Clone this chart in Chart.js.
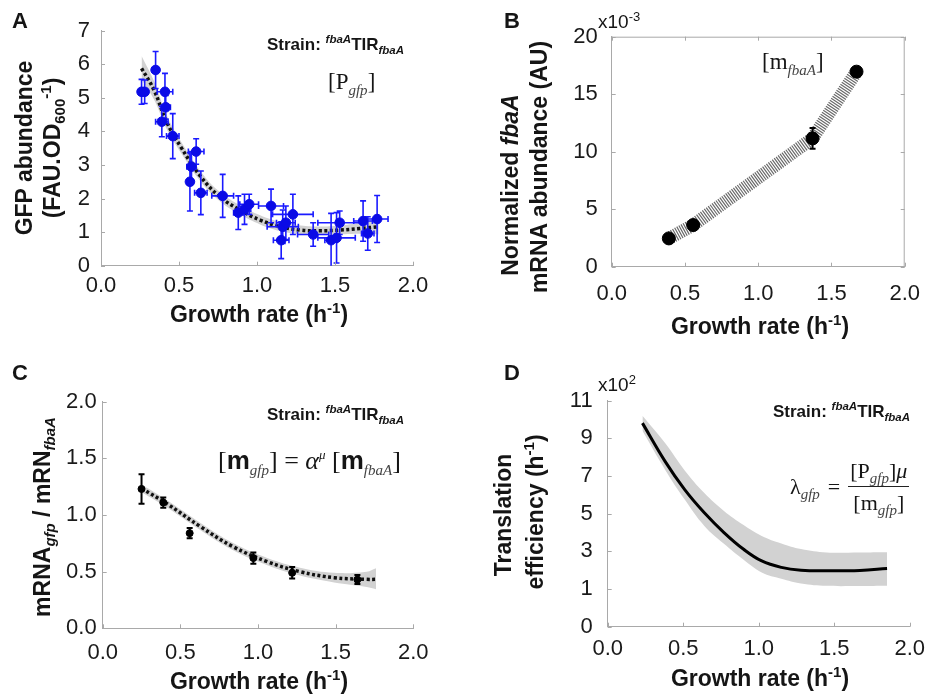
<!DOCTYPE html>
<html>
<head>
<meta charset="utf-8">
<script src="https://cdn.jsdelivr.net/npm/chart.js@4.4.1/dist/chart.umd.min.js"></script>
<style>
  body { margin: 0; background: #fff; }
  #page { position: relative; width: 934px; height: 694px; overflow: hidden; font-family: Arial, "Liberation Sans", sans-serif; color: #151515; }
  canvas { position: absolute; left: 0; top: 0; }
  .t { position: absolute; white-space: nowrap; line-height: 1; }
  .ttl { font-weight: bold; font-size: 23px; transform: translate(-50%, -50%); }
  .vt { font-weight: bold; font-size: 23px; transform: translate(-50%, -50%) rotate(-90deg); }
  .lbl { font-weight: bold; font-size: 22px; }
  .strain { font-weight: bold; font-size: 17px; transform: translateY(-50%); }
  .strain sup, .strain sub { font-size: 11.5px; font-style: italic; }
  .serif { font-family: "Times New Roman", "Liberation Serif", serif; font-size: 23px; }
  .serif sub { font-style: italic; font-size: 15px; color: #444; }
  sup, sub { line-height: 0; }
  .ttl sup, .vt sup, .vt sub { font-size: 15px; }
</style>
</head>
<body>
<div id="page">
  <canvas id="chartA" width="934" height="694"></canvas>
  <canvas id="chartB" width="934" height="694"></canvas>
  <canvas id="chartC" width="934" height="694"></canvas>
  <canvas id="chartD" width="934" height="694"></canvas>

  <!-- panel letters -->
  <div class="t lbl" style="left:12px;top:10px">A</div>
  <div class="t lbl" style="left:504px;top:10px">B</div>
  <div class="t lbl" style="left:12px;top:362px">C</div>
  <div class="t lbl" style="left:504px;top:362px">D</div>

  <!-- axis titles -->
  <div class="t ttl" style="left:259px;top:314px">Growth rate (h<sup>-1</sup>)</div>
  <div class="t ttl" style="left:760px;top:326px">Growth rate (h<sup>-1</sup>)</div>
  <div class="t ttl" style="left:259px;top:681px">Growth rate (h<sup>-1</sup>)</div>
  <div class="t ttl" style="left:760px;top:678px">Growth rate (h<sup>-1</sup>)</div>

  <div class="t vt" style="left:24px;top:148px">GFP abundance</div>
  <div class="t vt" style="left:52px;top:148px">(FAU.OD<sub>600</sub><sup>-1</sup>)</div>
  <div class="t vt" style="left:510px;top:185px">Normalized <i>fbaA</i></div>
  <div class="t vt" style="left:539px;top:167px">mRNA abundance (AU)</div>
  <div class="t vt" style="left:42px;top:517px">mRNA<sub><i>gfp</i></sub> / mRN<sub><i>fbaA</i></sub></div>
  <div class="t vt" style="left:503px;top:515px">Translation</div>
  <div class="t vt" style="left:535px;top:512px">efficiency (h<sup>-1</sup>)</div>

  <!-- multipliers -->
  <div class="t" style="left:598px;top:12px;font-size:19px">x10<sup style="font-size:13px">-3</sup></div>
  <div class="t" style="left:598px;top:375px;font-size:19px">x10<sup style="font-size:13px">2</sup></div>

  <!-- annotations -->
  <div class="t strain" style="left:267px;top:44px">Strain: <sup>fbaA</sup>TIR<sub>fbaA</sub></div>
  <div class="t strain" style="left:267px;top:414px">Strain: <sup>fbaA</sup>TIR<sub>fbaA</sub></div>
  <div class="t strain" style="left:773px;top:411px">Strain: <sup>fbaA</sup>TIR<sub>fbaA</sub></div>

  <div class="t serif" style="left:328px;top:70px">[P<sub>gfp</sub>]</div>
  <div class="t serif" style="left:762px;top:50px">[m<sub>fbaA</sub>]</div>
  <div class="t serif" style="left:218px;top:447px;font-size:26px">[<b style="font-family:Arial,sans-serif">m</b><sub>gfp</sub>] = <i>α</i><sup style="font-size:13px"><i>μ</i></sup> [<b style="font-family:Arial,sans-serif">m</b><sub>fbaA</sub>]</div>
  <div class="t serif" style="left:790px;top:487px;transform:translateY(-50%);display:flex;align-items:center;font-size:22px">
    <span>λ<sub>gfp</sub></span><span style="margin:0 8px">=</span>
    <span style="display:inline-flex;flex-direction:column;align-items:center">
      <span style="padding:0 2px 4px">[P<sub>gfp</sub>]<i>μ</i></span>
      <span style="border-top:1.5px solid #222;padding:5px 2px 0;align-self:stretch;text-align:center">[m<sub>gfp</sub>]</span>
    </span>
  </div>
</div>

<script>
// ---- Panel A: GFP abundance vs growth rate ----
const gfpRate  = [0.26, 0.28, 0.35, 0.41, 0.415, 0.39, 0.46, 0.57, 0.58, 0.61, 0.64, 0.78, 0.88, 0.92, 0.95, 1.09, 1.155, 1.165, 1.185, 1.23, 1.36, 1.475, 1.51, 1.53, 1.68, 1.71, 1.77];
const gfpLevel = [5.18, 5.18, 5.83, 5.18, 4.72, 4.29, 3.86, 2.50, 2.95, 3.40, 2.17, 2.08, 1.58, 1.68, 1.83, 1.78, 0.76, 1.16, 1.28, 1.53, 0.93, 0.76, 0.83, 1.28, 1.33, 0.96, 1.39];
const gfpErrY  = [0.37, 0.35, 0.55, 0.55, 0.35, 0.45, 0.67, 0.87, 0.45, 0.38, 0.65, 0.64, 0.50, 0.45, 0.30, 0.50, 0.55, 0.50, 0.50, 0.60, 0.35, 0.80, 0.75, 0.35, 0.60, 0.50, 0.70];
const gfpErrX  = [0.02, 0.02, 0.02, 0.05, 0.03, 0.04, 0.04, 0.02, 0.03, 0.05, 0.04, 0.07, 0.03, 0.04, 0.06, 0.08, 0.05, 0.10, 0.06, 0.13, 0.10, 0.04, 0.12, 0.14, 0.06, 0.04, 0.07];
const gfpFitRate = [0.26, 0.34, 0.42, 0.51, 0.64, 0.76, 0.89, 1.02, 1.15, 1.28, 1.40, 1.53, 1.66, 1.78];
const gfpFit     = [5.88, 5.23, 4.29, 3.55, 2.65, 2.06, 1.66, 1.36, 1.16, 1.06, 1.04, 1.06, 1.11, 1.16];
const gfpFitHi   = [6.25, 5.50, 4.50, 3.72, 2.80, 2.20, 1.80, 1.50, 1.30, 1.20, 1.17, 1.20, 1.28, 1.40];
const gfpFitLo   = [5.55, 4.95, 4.08, 3.38, 2.50, 1.93, 1.53, 1.23, 1.03, 0.93, 0.92, 0.93, 0.95, 0.93];

// ---- Panel B: fbaA mRNA (x10^-3) ----
const fbaRate = [0.39, 0.556, 1.371, 1.671];
const fbaMrna = [2.46, 3.62, 11.16, 16.96];
const fbaErr  = [0.2, 0.2, 0.9, 0.4];

// ---- Panel C: mRNA ratio ----
const ratioRate = [0.25, 0.39, 0.56, 0.97, 1.22, 1.64];
const ratio     = [1.23, 1.11, 0.84, 0.62, 0.49, 0.43];
const ratioErr  = [0.13, 0.045, 0.045, 0.05, 0.05, 0.04];
const ratioFitRate = [0.25, 0.41, 0.63, 0.84, 1.06, 1.27, 1.49, 1.70, 1.76];
const ratioFit     = [1.235, 1.103, 0.897, 0.72, 0.588, 0.50, 0.447, 0.432, 0.432];
const ratioFitHi   = [1.27, 1.135, 0.93, 0.752, 0.62, 0.535, 0.49, 0.50, 0.53];
const ratioFitLo   = [1.20, 1.07, 0.865, 0.688, 0.556, 0.465, 0.405, 0.365, 0.345];

// ---- Panel D: translation efficiency (x10^2) ----
const effRate = [0.23, 0.38, 0.51, 0.64, 0.77, 0.90, 1.02, 1.15, 1.28, 1.45, 1.67, 1.85];
const eff     = [9.81, 7.78, 6.28, 5.05, 4.00, 3.11, 2.49, 2.15, 2.00, 1.97, 1.99, 2.09];
const effHi   = [10.2, 8.75, 7.30, 6.10, 5.15, 4.40, 3.82, 3.42, 3.12, 2.94, 2.94, 2.95];
const effLo   = [9.40, 7.34, 5.75, 4.35, 3.40, 2.55, 1.88, 1.55, 1.30, 1.17, 1.16, 1.17];

const xy = (xs, ys) => xs.map((x, i) => ({ x, y: ys[i] }));
const AXIS = '#a9a9a9';
const BAND = '#d2d2d2';

// inward tick marks and optional closed box
const decor = {
  id: 'decor',
  afterDraw(chart, args, opts) {
    const { ctx, chartArea: a, scales: { x, y } } = chart;
    ctx.save();
    ctx.strokeStyle = AXIS;
    ctx.lineWidth = 1;
    ctx.beginPath();
    x.ticks.forEach(t => {
      const px = Math.round(x.getPixelForValue(t.value)) + 0.5;
      ctx.moveTo(px, a.bottom); ctx.lineTo(px, a.bottom - 4);
      if (opts.box) { ctx.moveTo(px, a.top); ctx.lineTo(px, a.top + 4); }
    });
    y.ticks.forEach(t => {
      const py = Math.round(y.getPixelForValue(t.value)) + 0.5;
      ctx.moveTo(a.left, py); ctx.lineTo(a.left + 4, py);
      if (opts.box) { ctx.moveTo(a.right, py); ctx.lineTo(a.right - 4, py); }
    });
    if (opts.box) {
      ctx.moveTo(a.left, a.top + 0.5); ctx.lineTo(a.right - 0.5, a.top + 0.5); ctx.lineTo(a.right - 0.5, a.bottom);
    }
    ctx.stroke();
    ctx.restore();
  }
};

// error bars, drawn just before the marker dataset
const errorBars = {
  id: 'errorBars',
  beforeDatasetDraw(chart, args) {
    const ds = chart.data.datasets[args.index];
    if (!ds.errY) return;
    const { ctx, chartArea: a, scales: { x, y } } = chart;
    const cap = ds.capSize;
    ctx.save();
    ctx.beginPath();
    ctx.rect(a.left, a.top, a.right - a.left, a.bottom - a.top);
    ctx.clip();
    ctx.strokeStyle = ds.errColor;
    ctx.lineWidth = ds.errWidth;
    ctx.beginPath();
    ds.data.forEach((p, i) => {
      const px = x.getPixelForValue(p.x), py = y.getPixelForValue(p.y);
      const top = y.getPixelForValue(p.y + ds.errY[i]), bot = y.getPixelForValue(p.y - ds.errY[i]);
      ctx.moveTo(px, top); ctx.lineTo(px, bot);
      ctx.moveTo(px - cap, top); ctx.lineTo(px + cap, top);
      ctx.moveTo(px - cap, bot); ctx.lineTo(px + cap, bot);
      if (ds.errX) {
        const l = x.getPixelForValue(p.x - ds.errX[i]), r = x.getPixelForValue(p.x + ds.errX[i]);
        ctx.moveTo(l, py); ctx.lineTo(r, py);
        ctx.moveTo(l, py - cap); ctx.lineTo(l, py + cap);
        ctx.moveTo(r, py - cap); ctx.lineTo(r, py + cap);
      }
    });
    ctx.stroke();
    ctx.restore();
  }
};

function makeChart(id, area, yOpts, xPad, datasets, decorOpts) {
  const W = 934, H = 694, YW = 70, XH = 40;
  return new Chart(document.getElementById(id), {
    type: 'scatter',
    data: { datasets },
    options: {
      responsive: false,
      animation: false,
      events: [],
      layout: { padding: { left: area.l - YW, top: area.t, right: W - area.r, bottom: H - area.b - XH } },
      plugins: { legend: { display: false }, tooltip: { enabled: false }, decor: decorOpts || {} },
      scales: {
        x: {
          type: 'linear', min: 0, max: 2,
          afterFit: s => { s.height = XH; },
          ticks: { stepSize: 0.5, padding: xPad, color: '#1a1a1a', font: { family: 'Arial', size: 22 }, maxRotation: 0, autoSkip: false, callback: v => v.toFixed(1) },
          grid: { display: false, drawTicks: false },
          border: { color: AXIS, width: 1 }
        },
        y: Object.assign({
          type: 'linear',
          afterFit: s => { s.width = YW; },
          grid: { display: false, drawTicks: false },
          border: { color: AXIS, width: 1 }
        }, yOpts)
      }
    },
    plugins: [decor, errorBars]
  });
}

const tickFont = { family: 'Arial', size: 22 };

// Panel A
makeChart('chartA', { l: 101, t: 30.7, r: 413, b: 265.7 },
  { min: 0, max: 7, ticks: { stepSize: 1, padding: 11, color: '#1a1a1a', font: tickFont } }, 7,
  [
    { data: xy(gfpRate, gfpLevel), errY: gfpErrY, errX: gfpErrX, errColor: '#1a1aff', errWidth: 1.6, capSize: 3,
      pointRadius: 4.8, pointBackgroundColor: '#0a0ae6', pointBorderColor: '#0a0ae6', showLine: false },
    { data: xy(gfpFitRate, gfpFit), showLine: true, pointRadius: 0, borderColor: '#111', borderWidth: 3.5, borderDash: [3, 2.5], tension: 0.4 },
    { data: xy(gfpFitRate, gfpFitHi), showLine: true, pointRadius: 0, borderWidth: 0, borderColor: 'rgba(0,0,0,0)', backgroundColor: BAND, fill: '+1', tension: 0.4 },
    { data: xy(gfpFitRate, gfpFitLo), showLine: true, pointRadius: 0, borderWidth: 0, borderColor: 'rgba(0,0,0,0)', tension: 0.4 }
  ]);

// Panel B
makeChart('chartB', { l: 611.7, t: 36.7, r: 911.7, b: 266.7 },
  { min: 0, max: 20, ticks: { stepSize: 5, padding: 14, color: '#1a1a1a', font: tickFont } }, 14,
  [
    { data: xy(fbaRate, fbaMrna), errY: fbaErr, errColor: '#000', errWidth: 2, capSize: 3,
      pointRadius: 6.5, pointBackgroundColor: '#000', pointBorderColor: '#000', showLine: false },
    { data: xy(fbaRate, fbaMrna), showLine: true, pointRadius: 0, borderColor: '#6a6a6a', borderWidth: 13, borderDash: [1.2, 1.2], borderCapStyle: 'butt' }
  ], { box: true });

// Panel C
makeChart('chartC', { l: 102.7, t: 401.7, r: 413.3, b: 628.3 },
  { min: 0, max: 2, ticks: { stepSize: 0.5, padding: 6, color: '#1a1a1a', font: tickFont, callback: v => v.toFixed(1) } }, 11,
  [
    { data: xy(ratioRate, ratio), errY: ratioErr, errColor: '#000', errWidth: 2, capSize: 3,
      pointRadius: 3.5, pointBackgroundColor: '#000', pointBorderColor: '#000', showLine: false },
    { data: xy(ratioFitRate, ratioFit), showLine: true, pointRadius: 0, borderColor: '#111', borderWidth: 3.5, borderDash: [3, 2.5], tension: 0.4 },
    { data: xy(ratioFitRate, ratioFitHi), showLine: true, pointRadius: 0, borderWidth: 0, borderColor: 'rgba(0,0,0,0)', backgroundColor: BAND, fill: '+1', tension: 0.4 },
    { data: xy(ratioFitRate, ratioFitLo), showLine: true, pointRadius: 0, borderWidth: 0, borderColor: 'rgba(0,0,0,0)', tension: 0.4 }
  ]);

// Panel D (bottom label reads 0 although ticks run 1, 3, 5 ... as in the figure)
makeChart('chartD', { l: 607.7, t: 400.7, r: 918.3, b: 626.7 },
  { min: -1, max: 11, ticks: { stepSize: 2, padding: 15, color: '#1a1a1a', font: tickFont, callback: v => (v === -1 ? '0' : v) } }, 9,
  [
    { data: xy(effRate, eff), showLine: true, pointRadius: 0, borderColor: '#000', borderWidth: 3, tension: 0.4 },
    { data: xy(effRate, effHi), showLine: true, pointRadius: 0, borderWidth: 0, borderColor: 'rgba(0,0,0,0)', backgroundColor: BAND, fill: '+1', tension: 0.4 },
    { data: xy(effRate, effLo), showLine: true, pointRadius: 0, borderWidth: 0, borderColor: 'rgba(0,0,0,0)', tension: 0.4 }
  ]);
</script>
</body>
</html>
